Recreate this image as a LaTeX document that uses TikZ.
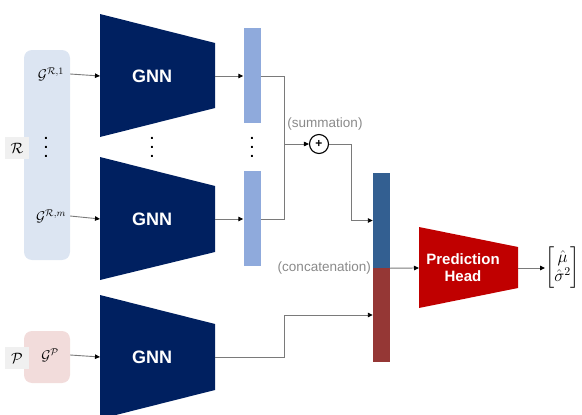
\RequirePackage{fix-cm}
\documentclass[tikz,border=0pt]{standalone}
\usepackage{amsmath}
\usepackage{fontspec}
\setmainfont{Liberation Sans}
\usetikzlibrary{arrows.meta}
\definecolor{navy}{HTML}{002060}
\definecolor{lightbar}{HTML}{8FAADC}
\definecolor{cblue}{HTML}{335F91}
\definecolor{cred}{HTML}{953735}
\definecolor{phred}{HTML}{C00000}
\definecolor{rbox}{HTML}{DCE5F2}
\definecolor{pbox}{HTML}{F2DCDB}
\definecolor{tagbox}{HTML}{F0F0F0}
\definecolor{linegray}{HTML}{7A7A7A}
\definecolor{notegray}{HTML}{8A8A8A}
\newcommand\myvdots{\vbox{\baselineskip9pt\lineskiplimit0pt\hbox{.}\hbox{.}\hbox{.}}}
\begin{document}
\begin{tikzpicture}[x=1pt,y=-1pt,
  gnnlabel/.style={text=white, font=\bfseries\fontsize{18}{20}\selectfont},
  phlabel/.style={text=white, font=\bfseries\fontsize{15}{18}\selectfont, align=center},
  mathlbl/.style={font=\fontsize{14}{16}\selectfont, inner sep=0pt},
  tag/.style={fill=tagbox, minimum width=24pt, minimum height=22pt, inner sep=0pt, font=\fontsize{15}{17}\selectfont},
  bar/.style={fill=lightbar, minimum width=17pt, minimum height=95pt, inner sep=0pt},
  note/.style={text=notegray, font=\fontsize{13.5}{15}\selectfont, inner sep=0pt},
  conn/.style={draw=linegray, line width=0.9pt},
  arr/.style={conn, -{Triangle[length=5pt,width=4.5pt,color=black]}},
  dotsl/.style={font=\bfseries\fontsize{14}{16}\selectfont, inner sep=0pt}
]
\useasboundingbox (0,0) rectangle (582,415);

% left group boxes
\node[fill=rbox, rounded corners=8pt, minimum width=46pt, minimum height=210pt, inner sep=0pt] (rgrp) at (47,155) {};
\node[fill=pbox, rounded corners=8pt, minimum width=46pt, minimum height=52pt, inner sep=0pt] (pgrp) at (47,357) {};
\node[tag] (rtag) at (17,148) {$\mathcal{R}$};
\node[tag] (ptag) at (17,358) {$\mathcal{P}$};
\node[mathlbl] (g1) at (51,74) {$\mathcal{G}^{\mathcal{R},1}$};
\node[dotsl] (gdots) at (46,147) {\myvdots};
\node[mathlbl] (gm) at (51,216) {$\mathcal{G}^{\mathcal{R},m}$};
\node[mathlbl] (gp) at (50,355) {$\mathcal{G}^{\mathcal{P}}$};

% GNN trapezoids
\fill[navy] (100,14) -- (215,43) -- (215,108) -- (100,137) -- cycle;
\fill[navy] (100,157) -- (215,186) -- (215,252) -- (100,280) -- cycle;
\fill[navy] (100,295) -- (215,324) -- (215,390) -- (100,419) -- cycle;
\node[gnnlabel] (gnn1) at (152,76) {GNN};
\node[gnnlabel] (gnn2) at (152,219) {GNN};
\node[gnnlabel] (gnn3) at (152,357) {GNN};
\node[dotsl] (gnndots) at (152,147) {\myvdots};
\coordinate (gnn1in) at (100,76);
\coordinate (gnn1out) at (215,76);
\coordinate (gnn2in) at (100,219);
\coordinate (gnn2out) at (215,219);
\coordinate (gnn3in) at (100,357);
\coordinate (gnn3out) at (215,357);

% embedding bars
\node[bar] (b1) at (252,75.5) {};
\node[bar] (b2) at (252,218.5) {};
\node[dotsl] (bdots) at (252,147) {\myvdots};

% summation
\node[draw=black, line width=1.1pt, circle, minimum size=19pt, inner sep=0pt, font=\bfseries\fontsize{12}{12}\selectfont] (sum) at (319,144) {+};
\node[note] (sumlbl) at (325,124) {(summation)};
\coordinate (junc) at (284,144);
\coordinate (sbend) at (351,144);

% concatenated bar
\node[fill=cblue, minimum width=17pt, minimum height=95pt, inner sep=0pt] (cb) at (381.5,220.5) {};
\node[fill=cred, minimum width=17pt, minimum height=94pt, inner sep=0pt] (cr) at (381.5,315) {};
\node[note, anchor=east] (catlbl) at (371,268) {(concatenation)};
\coordinate (pbend) at (284,357);

% prediction head
\fill[phred] (419,227) -- (518,247) -- (518,288) -- (419,308) -- cycle;
\node[phlabel] (ph) at (463,268) {Prediction\\[-1pt]Head};
\coordinate (phin) at (419,268);
\coordinate (phout) at (518,268);

% output
\node[inner sep=0pt, anchor=west, font=\fontsize{17}{19}\selectfont] (out) at (545,268) {$\begin{bmatrix}\hat{\mu}\\ \hat{\sigma}^2\end{bmatrix}$};

% connectors
\draw[arr] (rgrp.east |- g1) -- (gnn1in);
\draw[arr] (rgrp.east |- gm) -- (gnn2in);
\draw[arr] (pgrp.east |- gp) -- (gnn3in);
\draw[arr] (gnn1out) -- (b1.west |- gnn1out);
\draw[arr] (gnn2out) -- (b2.west |- gnn2out);
\draw[conn] (b1.east |- gnn1out) -| (junc);
\draw[conn] (b2.east |- gnn2out) -| (junc);
\draw[arr] (junc) -- (sum.west);
\draw[arr] (sum.east) -- (sbend) |- (cb.west);
\draw[arr] (gnn3out) -- (pbend) |- (cr.west);
\draw[arr] (cb.south east) -- (phin);
\draw[arr] (phout) -- (out.west);
\end{tikzpicture}
\end{document}
